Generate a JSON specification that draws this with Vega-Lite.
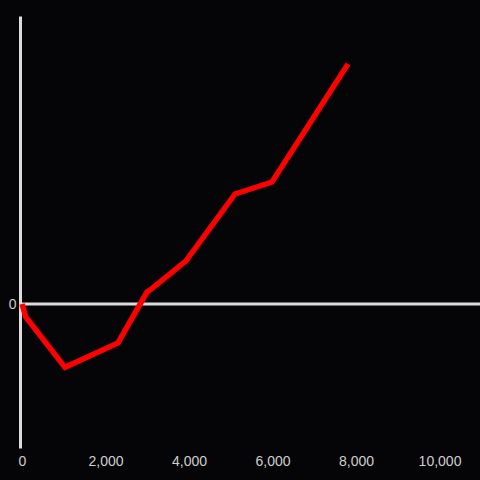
{
  "$schema": "https://vega.github.io/schema/vega-lite/v6.json",
  "width": 458,
  "height": 432,
  "autosize": {"type": "none"},
  "padding": {"top": 16, "left": 22, "right": 0, "bottom": 32},
  "background": "#050407",
  "config": {"view": {"stroke": null}, "font": "Liberation Sans"},
  "datasets": {
    "series": [
      {"x": 0, "y": 0},
      {"x": 90, "y": -0.09},
      {"x": 1030, "y": -0.44},
      {"x": 2299, "y": -0.27},
      {"x": 2994, "y": 0.083},
      {"x": 3066, "y": 0.097},
      {"x": 3928, "y": 0.299},
      {"x": 5102, "y": 0.764},
      {"x": 5988, "y": 0.847},
      {"x": 7808, "y": 1.667}
    ],
    "zero": [{"y": 0}]
  },
  "encoding": {
    "y": {
      "field": "y", "type": "quantitative",
      "scale": {"domain": [-1, 2], "nice": false, "zero": false},
      "axis": {"title": null, "values": [0], "domain": true, "domainColor": "#dcdcdc", "domainWidth": 3, "offset": 2, "ticks": false, "grid": false, "labelColor": "#cfcfcf", "labelFontSize": 14, "labelPadding": 4}
    }
  },
  "layer": [
    {
      "data": {"name": "zero"},
      "mark": {"type": "rule", "color": "#dcdcdc", "strokeWidth": 3}
    },
    {
      "data": {"name": "series"},
      "mark": {"type": "line", "color": "#ff0000", "strokeWidth": 5.5, "strokeJoin": "miter"},
      "encoding": {
        "x": {
          "field": "x", "type": "quantitative",
          "scale": {"domain": [0, 10970], "nice": false},
          "axis": {"title": null, "values": [0, 2000, 4000, 6000, 8000, 10000], "domain": false, "ticks": false, "grid": false, "labelColor": "#cfcfcf", "labelFontSize": 14, "labelPadding": 6, "labelFlush": false, "format": ",d"}
        }
      }
    }
  ]
}
